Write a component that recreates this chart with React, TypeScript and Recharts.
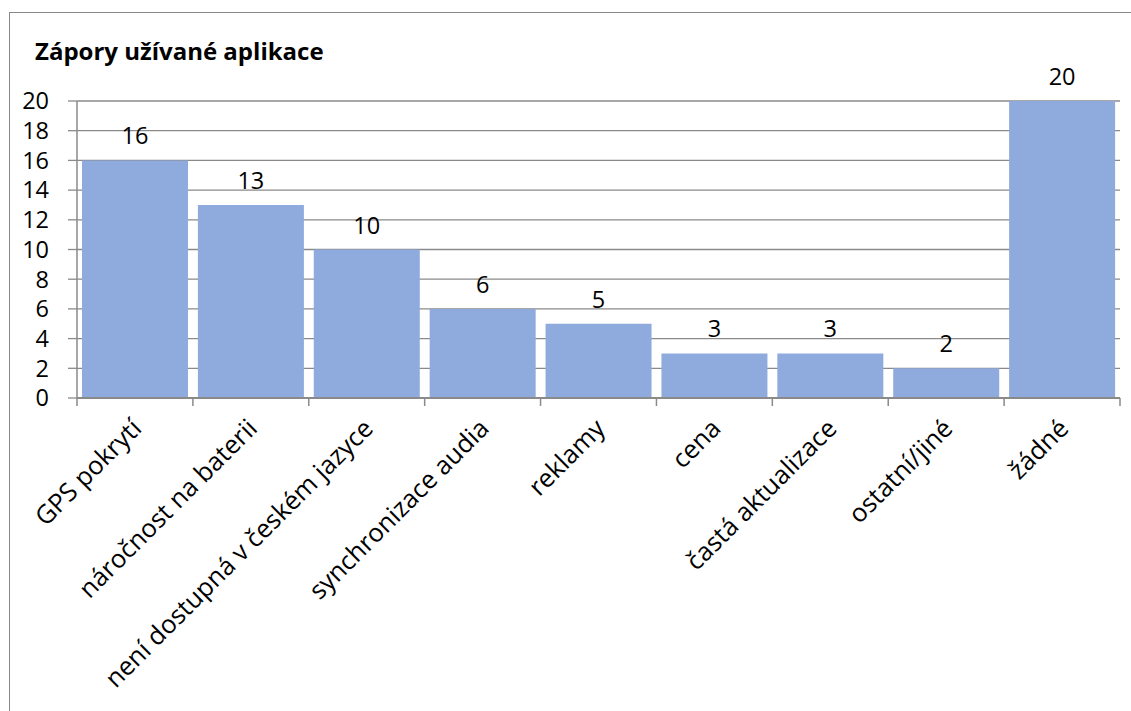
import { BarChart, Bar, XAxis, YAxis, CartesianGrid, LabelList } from 'recharts';

const categories = [
    'GPS pokrytí',
    'náročnost na baterii',
    'není dostupná v českém jazyce',
    'synchronizace audia',
    'reklamy',
    'cena',
    'častá aktualizace',
    'ostatní/jiné',
    'žádné',
];
const counts = [16, 13, 10, 6, 5, 3, 3, 2, 20];
const yTicks = [0, 2, 4, 6, 8, 10, 12, 14, 16, 18, 20];

const data = categories.map((name, i) => ({ name, value: counts[i] }));

const FONT = '"Open Sans", sans-serif';
const GRID = '#8a8a8a';

// category label rotated -45deg, plus the divider tick that Excel draws between categories
function CategoryTick(props: any) {
    const { x, y, payload, index, width, visibleTicksCount } = props;
    const half = (width || 1043) / (visibleTicksCount || 9) / 2;
    const last = index === (visibleTicksCount || 9) - 1;
    return (
        <g>
            <line x1={x - half} x2={x - half} y1={y - 8} y2={y} stroke={GRID} strokeWidth={1.5} />
            {last && <line x1={x + half} x2={x + half} y1={y - 8} y2={y} stroke={GRID} strokeWidth={1.5} />}
            <text
                x={x + 8}
                y={y + 24}
                transform={`rotate(-45, ${x + 8}, ${y + 24})`}
                textAnchor="end"
                fontFamily={FONT}
                fontSize={25.5}
                fill="#000"
            >
                {payload.value}
            </text>
        </g>
    );
}

export default function App() {
    return (
        <div style={{ position: 'absolute', left: 0, top: 0, width: 1131, height: 711, overflow: 'hidden', background: '#fff' }}>
            <div style={{ position: 'absolute', left: 9, top: 12, width: 1200, height: 800, borderLeft: '1.5px solid #888', borderTop: '1.5px solid #888' }} />
            <div style={{ position: 'absolute', left: 35, top: 34, fontFamily: FONT, fontWeight: 700, fontSize: 24, color: '#000', lineHeight: '34px' }}>
                Zápory užívané aplikace
            </div>
            <div style={{ position: 'absolute', left: 0, top: 0 }}>
                <BarChart width={1131} height={711} data={data} barCategoryGap={5} margin={{ top: 101, right: 11, left: 0, bottom: 0 }}>
                    <CartesianGrid vertical={false} stroke={GRID} strokeWidth={1.3} />
                    <YAxis
                        width={77}
                        domain={[0, 20]}
                        ticks={yTicks}
                        interval={0}
                        tickSize={9}
                        tickMargin={19}
                        axisLine={{ stroke: GRID, strokeWidth: 1.5 }}
                        tickLine={{ stroke: GRID, strokeWidth: 1.3 }}
                        tick={{ fill: '#000', fontFamily: FONT, fontSize: 23.5 }}
                    />
                    <XAxis
                        dataKey="name"
                        height={313}
                        interval={0}
                        tickLine={false}
                        axisLine={{ stroke: GRID, strokeWidth: 2 }}
                        tick={<CategoryTick />}
                    />
                    <Bar dataKey="value" fill="#8FAADC" isAnimationActive={false}>
                        <LabelList dataKey="value" position="top" offset={16} fill="#000" fontFamily={FONT} fontSize={23.5} />
                    </Bar>
                </BarChart>
            </div>
        </div>
    );
}
